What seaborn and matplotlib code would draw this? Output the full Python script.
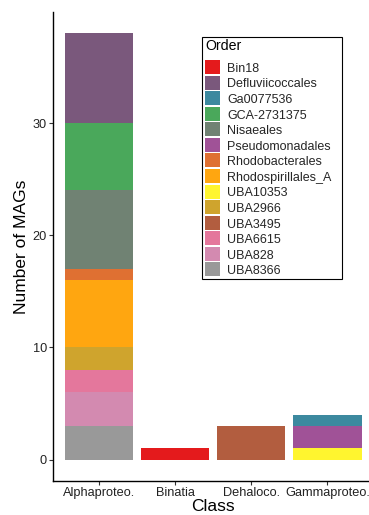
import matplotlib
matplotlib.use("Agg")
import matplotlib.pyplot as plt
from matplotlib.patches import Patch, Rectangle
from matplotlib.legend_handler import HandlerPatch
import pandas as pd
import seaborn as sns

# Orders and their palette (Set1 ramped out to 14 colours)
orders = ["Bin18", "Defluviicoccales", "Ga0077536", "GCA-2731375", "Nisaeales",
          "Pseudomonadales", "Rhodobacterales", "Rhodospirillales_A", "UBA10353",
          "UBA2966", "UBA3495", "UBA6615", "UBA828", "UBA8366"]
order_colors = ["#E41A1C", "#7A587C", "#3C899F", "#4AA85B", "#708273",
                "#A05297", "#DF7032", "#FFA610", "#FFF52F", "#CFA42D",
                "#B25D3F", "#E4779C", "#D38AB0", "#999999"]

classes = ["Alphaproteo.", "Binatia", "Dehaloco.", "Gammaproteo."]

# MAG counts per (class, order)
rec_class = ["Alphaproteo."] * 9 + ["Binatia", "Dehaloco."] + ["Gammaproteo."] * 3
rec_order = ["Defluviicoccales", "GCA-2731375", "Nisaeales", "Rhodobacterales",
             "Rhodospirillales_A", "UBA2966", "UBA6615", "UBA828", "UBA8366",
             "Bin18", "UBA3495",
             "Ga0077536", "Pseudomonadales", "UBA10353"]
rec_count = [8, 6, 7, 1, 6, 2, 2, 3, 3,
             1, 3,
             1, 2, 1]

df = pd.DataFrame({"Class": pd.Categorical(rec_class, categories=classes),
                   "Order": rec_order, "Count": rec_count})

sns.set_style("white")
plt.rcParams["font.family"] = ["Liberation Sans", "DejaVu Sans"]

W, H = 369, 515
fig = plt.figure(figsize=(W / 100, H / 100), dpi=100)
ax = fig.add_axes([53.3 / W, 34 / H, (373 - 53.3) / W, (481 - 12) / H])

palette = dict(zip(orders, order_colors))
sns.histplot(data=df, x="Class", hue="Order", weights="Count", hue_order=orders,
             multiple="stack", discrete=True, shrink=0.9, palette=palette,
             alpha=1, linewidth=0, legend=False, ax=ax)

ax.set_xlim(-0.6, 3.6)
ax.set_ylim(-1.9, 39.9)
ax.set_xticks(range(len(classes)))
ax.set_xticklabels(classes)
ax.set_yticks([0, 10, 20, 30])
ax.set_xlabel("Class", fontsize=12.5, color="black", labelpad=0)
ax.set_ylabel("Number of MAGs", fontsize=12.5, color="black", labelpad=3)

for side in ["top", "right"]:
    ax.spines[side].set_visible(False)
for side in ["left", "bottom"]:
    ax.spines[side].set_color("black")
    ax.spines[side].set_linewidth(1.0)
ax.tick_params(axis="both", which="major", direction="out", length=3, width=0.8,
               color="#333333", labelcolor="#222222", labelsize=9.2, pad=1.5,
               bottom=True, left=True)
ax.grid(False)


def key_square(legend, orig_handle, xdescent, ydescent, width, height, fontsize):
    # Taller key, centred on its row, leaving a thin gap between rows
    key_h = 1.12 * fontsize
    centre = (height - ydescent) / 2
    return Rectangle((-xdescent, centre - key_h / 2), width, key_h)


# Legend: title, keys and labels, with a plain black box drawn around them
fig.text(205 / W, 1 - 49.5 / H, "Order", fontsize=10.2, color="black",
         ha="left", va="baseline")
handles = [Patch(facecolor=c, edgecolor="none") for c in order_colors]
leg = fig.legend(handles, orders, loc="upper left",
                 bbox_to_anchor=(205 / W, 1 - 62 / H), borderaxespad=0,
                 frameon=False, fontsize=9,
                 handlelength=1.2, handleheight=1.0, handletextpad=0.56,
                 labelspacing=0.216, borderpad=0,
                 handler_map={Patch: HandlerPatch(patch_func=key_square)})
fig.add_artist(Rectangle((202 / W, 1 - 279 / H), (342 - 202) / W, (279 - 37) / H,
                         transform=fig.transFigure, facecolor="none",
                         edgecolor="black", linewidth=0.8, zorder=5))

fig.savefig("out.png", dpi=100)
